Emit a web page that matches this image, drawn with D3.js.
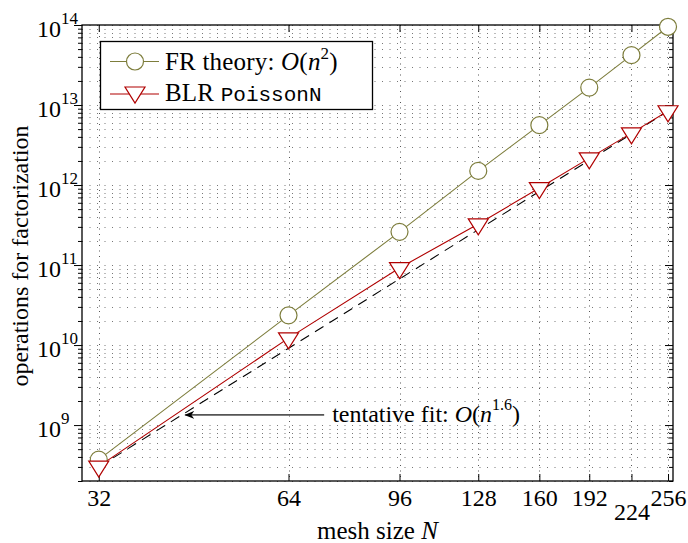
<!DOCTYPE html>
<html>
<head>
<meta charset="utf-8">
<script src="https://cdn.jsdelivr.net/npm/d3@7"></script>
<style>
body { margin: 0; background: #fff; }
text { font-family: "Liberation Serif", "Times New Roman", serif; fill: #000; }
.mono { font-family: "Liberation Mono", "DejaVu Sans Mono", monospace; }
</style>
</head>
<body>
<svg id="chart" width="688" height="543"></svg>
<script>
// values
var meshSizes = [32, 64, 96, 128, 160, 192, 224, 256];
var frTheory = [3.7e8, 2.35e10, 2.6e11, 1.5e12, 5.6e12, 1.65e13, 4.2e13, 9.5e13];
var blrPoisson = [3.05e8, 1.22e10, 9.2e10, 3.25e11, 9.2e11, 2.17e12, 4.45e12, 8.4e12];
var fitN = [32, 256];
var fitOps = [3.0e8, 8.4e12];
var yDecades = [9, 10, 11, 12, 13, 14];
var arrowTip = [43.9, 1.34e9];
var arrowTail = [72.9, 1.34e9];

var olive = "#7d7d3c";
var darkRed = "#b00000";

var margin = {top: 25, left: 82, right: 15, bottom: 62};
var width = 688 - margin.left - margin.right;
var height = 456;

var svg = d3.select("#chart");
var g = svg.append("g")
    .attr("transform", "translate(" + margin.left + "," + margin.top + ")");

var x = d3.scaleLog().domain([30.1, 260.7]).range([0, width]);
var y = d3.scaleLog().domain([2e8, 1e14]).range([height, 0]);

var allY = y.ticks();
var isMajor = function (v) { return Math.abs(Math.log10(v) - Math.round(Math.log10(v))) < 1e-9; };

// grid
g.selectAll(".hgrid").data(allY).enter().append("line")
    .attr("x1", 0).attr("x2", width)
    .attr("y1", function (d) { return Math.round(y(d)) + 0.5; })
    .attr("y2", function (d) { return Math.round(y(d)) + 0.5; })
    .attr("stroke", "#777").attr("stroke-width", 1)
    .attr("stroke-dasharray", "1,6.5");

g.selectAll(".vgrid").data(meshSizes).enter().append("line")
    .attr("y1", 0).attr("y2", height)
    .attr("x1", function (d) { return Math.round(x(d)) + 0.5; })
    .attr("x2", function (d) { return Math.round(x(d)) + 0.5; })
    .attr("stroke", "#555").attr("stroke-width", 1)
    .attr("stroke-dasharray", "1,4.5");

// ticks (inside, on all sides)
function yTicks(axisFn, xpos) {
    g.append("g").attr("transform", "translate(" + xpos + ",0)")
        .call(axisFn(y).tickValues(allY.filter(function (d) { return !isMajor(d); }))
            .tickSize(xpos === 0 ? -4 : 4).tickSizeOuter(0).tickFormat(""))
        .call(function (s) { s.select(".domain").remove(); });
    g.append("g").attr("transform", "translate(" + xpos + ",0)")
        .call(axisFn(y).tickValues(allY.filter(isMajor))
            .tickSize(xpos === 0 ? -8 : 8).tickSizeOuter(0).tickFormat(""))
        .call(function (s) { s.select(".domain").remove(); });
}
yTicks(d3.axisRight, 0);
yTicks(d3.axisLeft, width);

var xb = g.append("g").attr("transform", "translate(0," + height + ")")
    .call(d3.axisBottom(x).tickValues(meshSizes).tickSize(-7).tickSizeOuter(0).tickFormat(d3.format("d")));
xb.select(".domain").remove();
xb.selectAll("text")
    .attr("y", 17)
    .attr("dy", function (d) { return d === 224 ? "0.92em" : "0.33em"; })
    .style("font-size", "24px")
    .style("font-family", "'Liberation Serif', serif");
g.append("g")
    .call(d3.axisTop(x).tickValues(meshSizes).tickSize(-7).tickSizeOuter(0).tickFormat(""))
    .select(".domain").remove();
g.selectAll(".tick line").attr("stroke", "#000").attr("stroke-width", 1);

// y tick labels 10^k
var ylab = g.selectAll(".ylab").data(yDecades).enter().append("text")
    .attr("x", -45)
    .attr("y", function (d) { return y(Math.pow(10, d)) + 12; })
    .style("font-size", "24px");
ylab.append("tspan").text("10");
ylab.append("tspan").attr("dy", -13).style("font-size", "17px")
    .text(function (d) { return d; });

// frame
g.append("rect").attr("width", width).attr("height", height)
    .attr("fill", "none").attr("stroke", "#000").attr("stroke-width", 1.3);

// axis titles
svg.append("text")
    .attr("transform", "translate(28," + (margin.top + height / 2 + 3) + ") rotate(-90)")
    .attr("text-anchor", "middle")
    .style("font-size", "24px")
    .text("operations for factorization");

var xt = svg.append("text")
    .attr("x", margin.left + width / 2).attr("y", 539)
    .attr("text-anchor", "middle")
    .style("font-size", "25px");
xt.append("tspan").text("mesh size ");
xt.append("tspan").style("font-style", "italic").text("N");

// lines
var line = d3.line()
    .x(function (d) { return x(d[0]); })
    .y(function (d) { return y(d[1]); });

g.append("path").datum(d3.zip(fitN, fitOps))
    .attr("d", line).attr("fill", "none")
    .attr("stroke", "#000").attr("stroke-width", 1.1)
    .attr("stroke-dasharray", "10,7");

g.append("path").datum(d3.zip(meshSizes, frTheory))
    .attr("d", line).attr("fill", "none")
    .attr("stroke", olive).attr("stroke-width", 1.1);

g.append("path").datum(d3.zip(meshSizes, blrPoisson))
    .attr("d", line).attr("fill", "none")
    .attr("stroke", darkRed).attr("stroke-width", 1.1);

// markers
var triPath = "M-10,-5.3L10,-5.3L0,10.7Z";

g.selectAll(".circ").data(d3.zip(meshSizes, frTheory)).enter().append("circle")
    .attr("cx", function (d) { return x(d[0]); })
    .attr("cy", function (d) { return y(d[1]); })
    .attr("r", 8.5)
    .attr("fill", "#fff").attr("stroke", olive).attr("stroke-width", 1.2);

g.selectAll(".tri").data(d3.zip(meshSizes, blrPoisson)).enter().append("path")
    .attr("d", triPath)
    .attr("transform", function (d) { return "translate(" + x(d[0]) + "," + y(d[1]) + ")"; })
    .attr("fill", "#fff").attr("stroke", darkRed).attr("stroke-width", 1.2);

// annotation arrow
svg.append("defs").append("marker")
    .attr("id", "head").attr("viewBox", "0 0 10 10")
    .attr("refX", 9).attr("refY", 5)
    .attr("markerWidth", 10).attr("markerHeight", 10)
    .attr("markerUnits", "userSpaceOnUse")
    .attr("orient", "auto")
    .append("path").attr("d", "M0,1 L10,5 L0,9 L3,5 Z").attr("fill", "#000");

g.append("line")
    .attr("x1", x(arrowTail[0])).attr("y1", y(arrowTail[1]))
    .attr("x2", x(arrowTip[0])).attr("y2", y(arrowTip[1]))
    .attr("stroke", "#555").attr("stroke-width", 1.6)
    .attr("marker-end", "url(#head)");

var ann = g.append("text")
    .attr("x", x(arrowTail[0]) + 8).attr("y", y(arrowTail[1]) + 7)
    .style("font-size", "24px");
ann.append("tspan").text("tentative fit: ");
ann.append("tspan").style("font-style", "italic").text("O");
ann.append("tspan").text("(");
ann.append("tspan").style("font-style", "italic").text("n");
ann.append("tspan").attr("dy", -12).style("font-size", "16px").text("1.6");
ann.append("tspan").attr("dy", 12).text(")");

// legend
var leg = svg.append("g");
leg.append("rect").attr("x", 100.5).attr("y", 41.5).attr("width", 272).attr("height", 68)
    .attr("fill", "#fff").attr("stroke", "#000").attr("stroke-width", 1.3);

leg.append("line").attr("x1", 110).attr("x2", 159).attr("y1", 61.5).attr("y2", 61.5)
    .attr("stroke", olive).attr("stroke-width", 1.1);
leg.append("circle").attr("cx", 135).attr("cy", 61.5).attr("r", 8.5)
    .attr("fill", "#fff").attr("stroke", olive).attr("stroke-width", 1.2);
var t1 = leg.append("text").attr("x", 165).attr("y", 70)
    .style("font-size", "25px").style("letter-spacing", "0.2px");
t1.append("tspan").text("FR theory: ");
t1.append("tspan").style("font-style", "italic").text("O");
t1.append("tspan").text("(");
t1.append("tspan").style("font-style", "italic").text("n");
t1.append("tspan").attr("dy", -11).style("font-size", "17px").text("2");
t1.append("tspan").attr("dy", 11).text(")");

leg.append("line").attr("x1", 110).attr("x2", 159).attr("y1", 94).attr("y2", 94)
    .attr("stroke", darkRed).attr("stroke-width", 1.1);
leg.append("path").attr("d", triPath).attr("transform", "translate(135,92.3)")
    .attr("fill", "#fff").attr("stroke", darkRed).attr("stroke-width", 1.2);
var t2 = leg.append("text").attr("x", 165).attr("y", 101)
    .style("font-size", "25px").style("letter-spacing", "0.2px");
t2.append("tspan").text("BLR ");
t2.append("tspan").attr("class", "mono").style("font-size", "21px")
    .style("letter-spacing", "0px").text("PoissonN");
</script>
</body>
</html>
